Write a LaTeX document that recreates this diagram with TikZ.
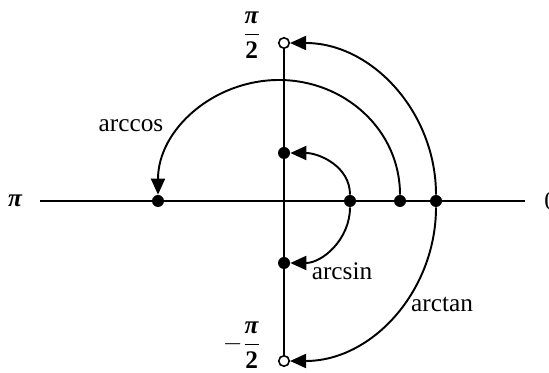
\documentclass[tikz,border=0pt]{standalone}
\usepackage{fontspec}
\setmainfont{Liberation Serif}
\usepackage{amsmath}
\usetikzlibrary{arrows.meta}
\tikzset{
  >={Triangle[length=3.2mm,width=2.8mm]},
  axis/.style={line width=1.1pt},
  dot/.style={circle,fill=black,inner sep=0pt,minimum size=2.4mm},
  hole/.style={circle,draw=black,fill=white,line width=0.9pt,inner sep=0pt,minimum size=2.1mm},
  curve/.style={->,line width=1.1pt},
  lbl/.style={font=\Large,inner sep=0pt},
}
\newcommand{\bpi}{\mbox{\bfseries\itshape π}}

\begin{document}
\begin{tikzpicture}
  \useasboundingbox (-5.68,-3.44) rectangle (5.30,4.02);
  % axes
  \node[hole] (top) at (0,3.16) {};
  \node[hole] (bot) at (0,-3.2) {};
  \coordinate (west) at (-4.88,0);
  \coordinate (east) at (4.82,0);
  \draw[axis] (west) -- (east);
  \draw[axis] (top) -- (bot);
  % points
  \node[dot] (cosA) at (2.32,0) {};
  \node[dot] (cosB) at (-2.52,0) {};
  \node[dot] (sinA) at (1.32,0) {};
  \node[dot] (sinT) at (0,0.96) {};
  \node[dot] (sinB) at (0,-1.24) {};
  \node[dot] (tanA) at (3.04,0) {};
  \coordinate (cosTop) at (-0.1,2.42);
  % arcs
  \draw[curve] (tanA) to[out=90,in=0] (top);
  \draw[curve] (tanA) to[out=-90,in=0] (bot);
  \draw[curve] (sinA) to[out=90,in=0] (sinT);
  \draw[curve] (sinA) to[out=-90,in=0] (sinB);
  \draw[curve] (cosA) to[out=90,in=0] (cosTop) to[out=180,in=90] (cosB);
  % labels
  \node[lbl] (lpi) at (-5.38,0) {\bpi};
  \node[lbl,anchor=west] (lzero) at (5.2,0) {0};
  \node[lbl,anchor=east] (lhalf) at (-0.46,3.32) {$\dfrac{\bpi}{\mbox{\bfseries 2}}$};
  \node[lbl,anchor=east] (lmhalf) at (-0.46,-2.88) {$-\dfrac{\bpi}{\mbox{\bfseries 2}}$};
  \node[lbl,anchor=base] (lcos) at (-3.06,1.38) {arccos};
  \node[lbl,anchor=base] (lsin) at (1.16,-1.58) {arcsin};
  \node[lbl,anchor=base] (ltan) at (3.16,-2.22) {arctan};
\end{tikzpicture}
\end{document}
